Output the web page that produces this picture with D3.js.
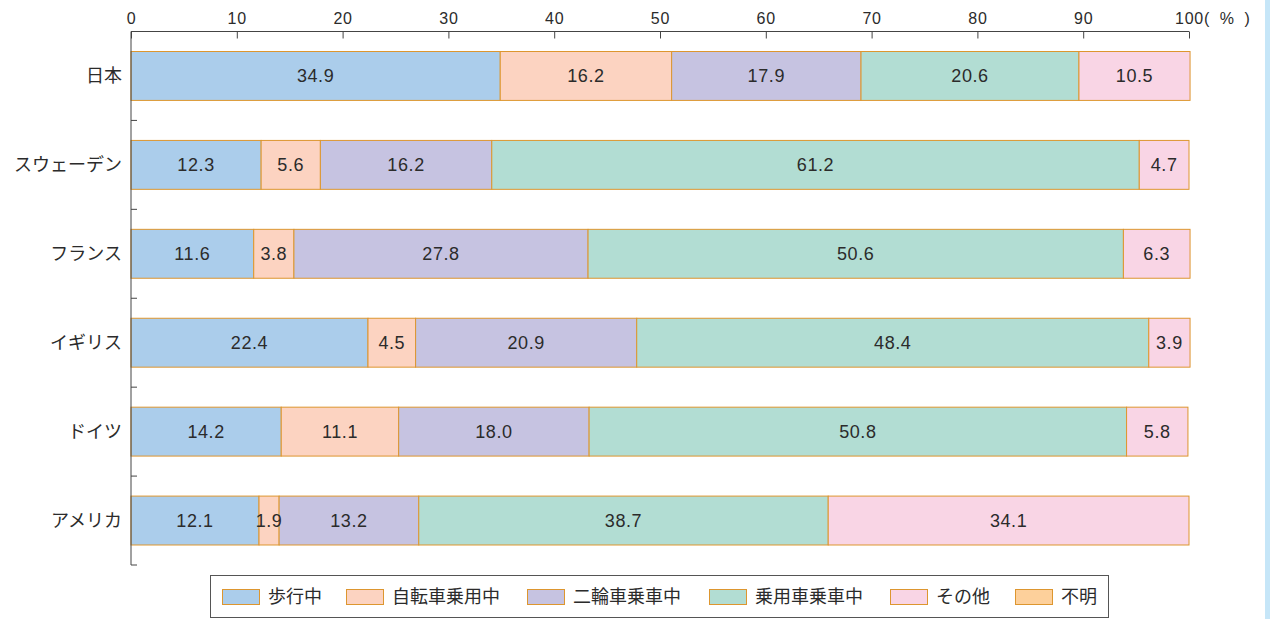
<!DOCTYPE html>
<html>
<head>
<meta charset="utf-8">
<script src="https://cdn.jsdelivr.net/npm/d3@7"></script>
<style>
  html, body { margin: 0; padding: 0; background: #fff; }
  svg { display: block; }
  .num { font-family: "Liberation Sans", Arial, sans-serif; fill: #2b2b2b; }
  .jp { font-family: "Noto Sans CJK JP", sans-serif; fill: #2b2b2b; }
</style>
</head>
<body>
<svg id="chart" width="1270" height="619"></svg>
<script>
// Country categories (top to bottom)
const countries = ["日本", "スウェーデン", "フランス", "イギリス", "ドイツ", "アメリカ"];
// Series names (legend order, stacking order)
const seriesNames = ["歩行中", "自転車乗用中", "二輪車乗車中", "乗用車乗車中", "その他", "不明"];
// Share (%) per series, one value per country
const walking   = [34.9, 12.3, 11.6, 22.4, 14.2, 12.1];
const cycling   = [16.2,  5.6,  3.8,  4.5, 11.1,  1.9];
const twoWheel  = [17.9, 16.2, 27.8, 20.9, 18.0, 13.2];
const carRiding = [20.6, 61.2, 50.6, 48.4, 50.8, 38.7];
const other     = [10.5,  4.7,  6.3,  3.9,  5.8, 34.1];
const unknown   = [ 0,    0,    0,    0,    0,    0  ];
const xTicks = [0, 10, 20, 30, 40, 50, 60, 70, 80, 90, 100];

const colors = ["#abcdeb", "#fcd3c1", "#c6c3e1", "#b2ddd3", "#f9d5e5", "#fdd09b"];
const strokeColor = "#dd962f";

const seriesValues = [walking, cycling, twoWheel, carRiding, other, unknown];
const rows = countries.map((c, i) => {
  const r = { country: c };
  seriesNames.forEach((s, j) => { r[s] = seriesValues[j][i]; });
  return r;
});

const svg = d3.select("#chart");

// right-hand decorative strip
svg.append("rect").attr("x", 1265).attr("y", 0).attr("width", 5).attr("height", 619).attr("fill", "#c6e6f8");

const plotLeft = 131, plotRight = 1189, plotTop = 31.5, plotBottom = 565;

const x = d3.scaleLinear().domain([0, 100]).range([plotLeft, plotRight]);
const yCat = d3.scaleBand().domain(countries).range([plotTop, plotBottom]).padding(0);
const y = d3.scaleBand().domain(countries).range([plotTop, plotBottom]).paddingInner(0.45).paddingOuter(0.225);

const stack = d3.stack().keys(seriesNames);
const layers = stack(rows);

// bars
const g = svg.append("g");
layers.forEach((layer, li) => {
  g.selectAll(null)
    .data(layer.filter(d => d[1] - d[0] > 0))
    .join("rect")
    .attr("x", d => x(d[0]))
    .attr("y", d => y(d.data.country))
    .attr("width", d => x(d[1]) - x(d[0]))
    .attr("height", y.bandwidth())
    .attr("fill", colors[li])
    .attr("stroke", strokeColor)
    .attr("stroke-width", 1);
});

// value labels
layers.forEach((layer) => {
  g.selectAll(null)
    .data(layer.filter(d => d[1] - d[0] > 0))
    .join("text")
    .attr("class", "num")
    .attr("x", d => (x(d[0]) + x(d[1])) / 2)
    .attr("y", d => y(d.data.country) + y.bandwidth() / 2)
    .attr("dy", "0.36em")
    .attr("text-anchor", "middle")
    .attr("font-size", 18)
    .attr("letter-spacing", "0.6px")
    .text(d => (d[1] - d[0]).toFixed(1));
});

// top axis
const xAxis = d3.axisTop(x).tickValues(xTicks).tickSize(-7).tickSizeOuter(0).tickPadding(8);
const ax = svg.append("g").attr("transform", `translate(0,${plotTop})`).call(xAxis);
ax.select(".domain").attr("stroke", "#444").attr("d", `M${plotLeft},0H${plotRight}`);
ax.selectAll(".tick line").attr("stroke", "#444");
ax.selectAll(".tick text")
  .attr("class", "num")
  .attr("font-size", 16)
  .attr("letter-spacing", "0.8px")
  .attr("fill", "#2b2b2b");
ax.append("text")
  .attr("class", "num")
  .attr("x", x(100) + 15)
  .attr("y", -8)
  .attr("font-size", 16)
  .attr("letter-spacing", "3px")
  .attr("text-anchor", "start")
  .attr("fill", "#2b2b2b")
  .attr("xml:space", "preserve")
  .style("white-space", "pre")
  .text("( % )");

// left axis with ticks at category boundaries
const la = svg.append("g");
la.append("line").attr("x1", plotLeft).attr("x2", plotLeft).attr("y1", plotTop).attr("y2", plotBottom).attr("stroke", "#444");
la.selectAll(null)
  .data(countries)
  .join("line")
  .attr("x1", plotLeft).attr("x2", plotLeft + 6)
  .attr("y1", d => yCat(d) + yCat.bandwidth())
  .attr("y2", d => yCat(d) + yCat.bandwidth())
  .attr("stroke", "#444");
la.selectAll(null)
  .data(countries)
  .join("text")
  .attr("class", "jp")
  .attr("x", plotLeft - 9)
  .attr("y", d => y(d) + y.bandwidth() / 2)
  .attr("dy", "0.35em")
  .attr("text-anchor", "end")
  .attr("font-size", 18)
  .text(d => d);

// legend
const lg = svg.append("g");
lg.append("rect").attr("x", 210.5).attr("y", 575.5).attr("width", 898).attr("height", 42)
  .attr("fill", "#fff").attr("stroke", "#555").attr("stroke-width", 1);
const legendX = [222, 346, 527, 709, 890, 1015];
seriesNames.forEach((s, i) => {
  lg.append("rect").attr("x", legendX[i] + 0.5).attr("y", 589.5).attr("width", 37).attr("height", 15)
    .attr("fill", colors[i]).attr("stroke", strokeColor).attr("stroke-width", 1);
  lg.append("text").attr("class", "jp").attr("x", legendX[i] + 46).attr("y", 597).attr("dy", "0.35em")
    .attr("font-size", 18).text(s);
});
</script>
</body>
</html>
